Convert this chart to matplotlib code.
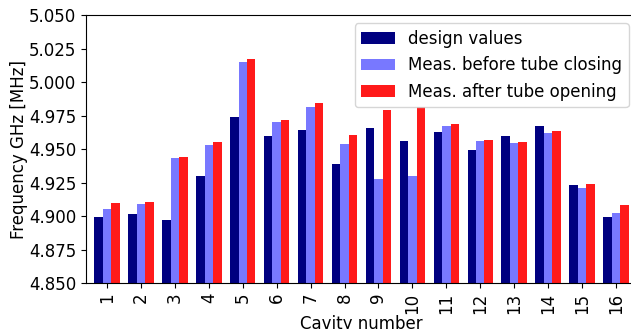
import numpy as np
import matplotlib
matplotlib.use("Agg")
import matplotlib.pyplot as plt

cavities = list(range(1, 17))
design = [4.899, 4.9015, 4.897, 4.930, 4.974, 4.9595, 4.9645, 4.939,
          4.966, 4.956, 4.9625, 4.949, 4.9595, 4.9675, 4.923, 4.899]
before_closing = [4.905, 4.909, 4.943, 4.953, 5.015, 4.9705, 4.9815, 4.9535,
                  4.9275, 4.930, 4.967, 4.956, 4.9545, 4.962, 4.921, 4.902]
after_opening = [4.910, 4.9105, 4.944, 4.9555, 5.017, 4.972, 4.984, 4.9605,
                 4.979, 4.9815, 4.9685, 4.957, 4.9555, 4.9635, 4.924, 4.908]

plt.rcParams["font.size"] = 12

fig = plt.figure(figsize=(6.31, 3.29), dpi=100)
ax = fig.add_axes([0.1363, 0.1398, 0.8732, 0.8146])

x = np.array(cavities)
w = 0.25
ax.bar(x - w, design, w, color="#000080", label="design values")
ax.bar(x, before_closing, w, color="#7878ff", label="Meas. before tube closing")
ax.bar(x + w, after_opening, w, color="#ff1a1a", label="Meas. after tube opening")

ax.set_ylim(4.85, 5.05)
ax.set_yticks(np.arange(4.85, 5.0501, 0.025))
ax.set_xlim(0.38, 16.62)
ax.set_xticks(x)
ax.set_xticklabels([str(c) for c in cavities], rotation=90)
ax.set_xlabel("Cavity number", labelpad=1)
ax.set_ylabel("Frequency GHz [MHz]", labelpad=1)
ax.legend(loc="upper right")

fig.savefig("out.png", dpi=100)
